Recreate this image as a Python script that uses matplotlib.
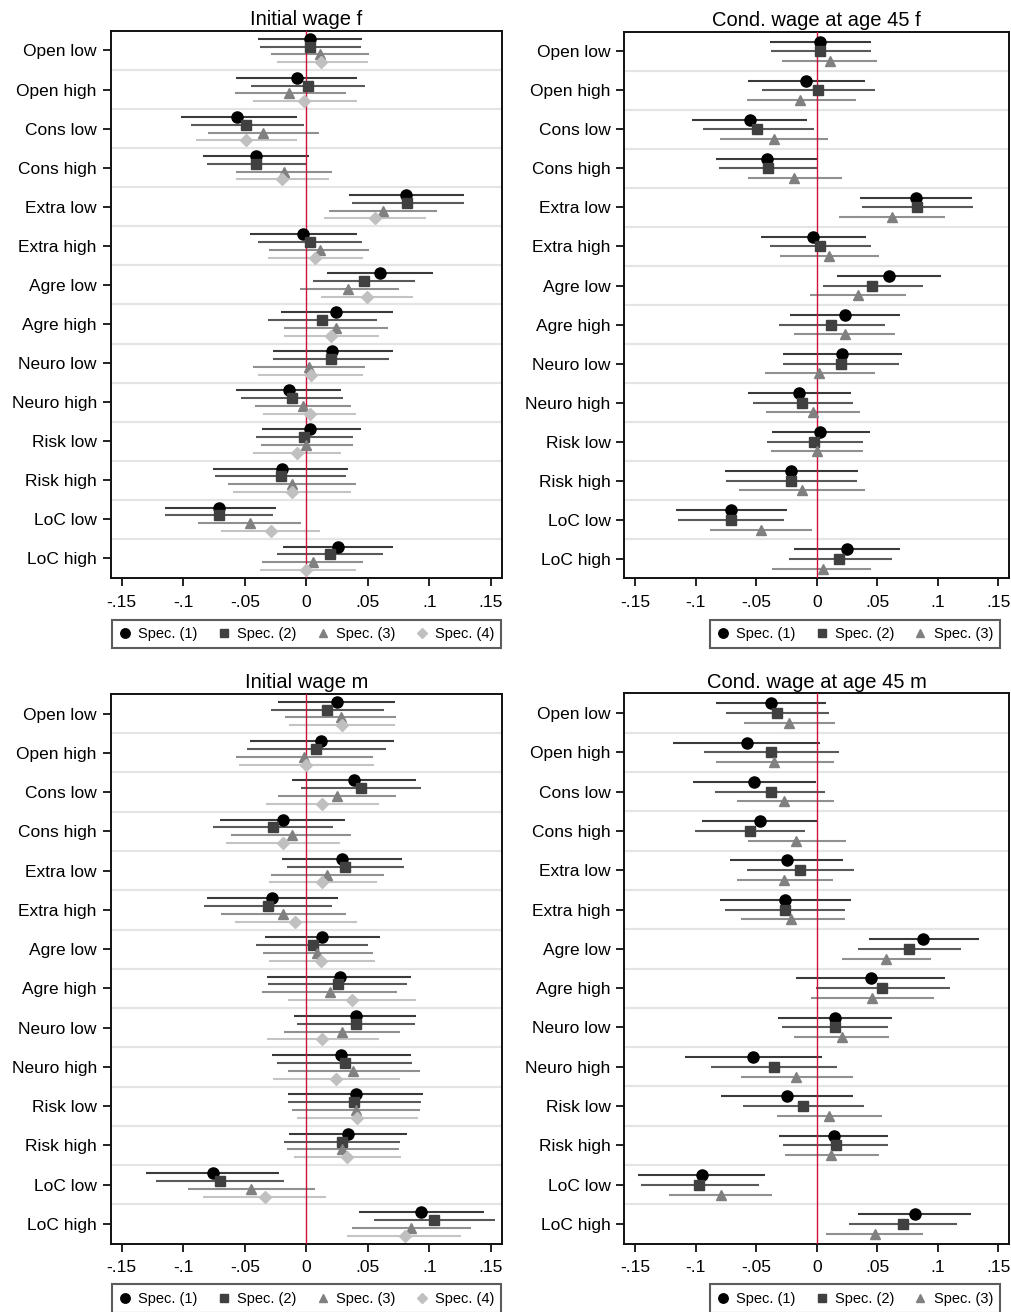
import numpy as np
import matplotlib.pyplot as plt
from matplotlib.lines import Line2D

plt.rcParams['font.family'] = ['Liberation Sans', 'DejaVu Sans']

categories = ['Open low', 'Open high', 'Cons low', 'Cons high', 'Extra low', 'Extra high',
              'Agre low', 'Agre high', 'Neuro low', 'Neuro high', 'Risk low', 'Risk high',
              'LoC low', 'LoC high']
spec_labels = ['Spec. (1)', 'Spec. (2)', 'Spec. (3)', 'Spec. (4)']
xtick_vals = [-0.15, -0.1, -0.05, 0, 0.05, 0.1, 0.15]
xtick_labels = ['-.15', '-.1', '-.05', '0', '.05', '.1', '.15']

# Initial wage f (4 specs)
init_f_b = [
    [0.003, -0.008, -0.056, -0.041, 0.081, -0.003, 0.060, 0.024, 0.021, -0.014, 0.003, -0.020, -0.071, 0.026],
    [0.003, 0.001, -0.049, -0.041, 0.082, 0.003, 0.047, 0.013, 0.020, -0.012, -0.002, -0.021, -0.071, 0.019],
    [0.011, -0.014, -0.035, -0.018, 0.062, 0.011, 0.034, 0.024, 0.002, -0.003, 0.000, -0.012, -0.046, 0.005],
    [0.012, -0.002, -0.049, -0.020, 0.056, 0.007, 0.049, 0.020, 0.004, 0.003, -0.008, -0.012, -0.029, 0.000],
]
init_f_lo = [
    [-0.039, -0.057, -0.102, -0.084, 0.035, -0.046, 0.017, -0.021, -0.027, -0.057, -0.036, -0.076, -0.115, -0.019],
    [-0.038, -0.045, -0.094, -0.081, 0.037, -0.039, 0.005, -0.031, -0.027, -0.053, -0.041, -0.074, -0.115, -0.024],
    [-0.029, -0.058, -0.080, -0.057, 0.018, -0.030, -0.005, -0.018, -0.043, -0.042, -0.037, -0.064, -0.088, -0.036],
    [-0.024, -0.043, -0.090, -0.057, 0.014, -0.031, 0.012, -0.018, -0.039, -0.035, -0.043, -0.060, -0.069, -0.038],
]
init_f_hi = [
    [0.045, 0.041, -0.008, 0.002, 0.128, 0.041, 0.103, 0.070, 0.070, 0.028, 0.044, 0.034, -0.025, 0.070],
    [0.044, 0.048, -0.002, 0.000, 0.128, 0.045, 0.088, 0.057, 0.067, 0.030, 0.038, 0.032, -0.027, 0.062],
    [0.051, 0.032, 0.010, 0.021, 0.106, 0.051, 0.075, 0.066, 0.048, 0.036, 0.038, 0.040, -0.004, 0.046],
    [0.050, 0.041, -0.008, 0.018, 0.097, 0.046, 0.087, 0.059, 0.046, 0.040, 0.028, 0.036, 0.011, 0.040],
]

# Cond. wage at age 45 f (3 specs)
cond_f_b = [
    [0.003, -0.009, -0.055, -0.041, 0.082, -0.003, 0.060, 0.023, 0.021, -0.015, 0.003, -0.021, -0.071, 0.025],
    [0.003, 0.001, -0.049, -0.040, 0.083, 0.003, 0.046, 0.012, 0.020, -0.012, -0.002, -0.021, -0.071, 0.018],
    [0.011, -0.014, -0.035, -0.019, 0.062, 0.010, 0.034, 0.023, 0.002, -0.003, 0.000, -0.012, -0.046, 0.005],
]
cond_f_lo = [
    [-0.039, -0.057, -0.103, -0.083, 0.036, -0.046, 0.017, -0.022, -0.028, -0.057, -0.037, -0.076, -0.116, -0.019],
    [-0.038, -0.045, -0.094, -0.081, 0.037, -0.039, 0.005, -0.031, -0.028, -0.053, -0.041, -0.075, -0.115, -0.023],
    [-0.029, -0.058, -0.080, -0.057, 0.018, -0.030, -0.006, -0.019, -0.043, -0.042, -0.038, -0.064, -0.088, -0.037],
]
cond_f_hi = [
    [0.045, 0.040, -0.008, 0.001, 0.128, 0.041, 0.103, 0.069, 0.070, 0.028, 0.044, 0.034, -0.025, 0.069],
    [0.045, 0.048, -0.002, 0.001, 0.129, 0.045, 0.088, 0.056, 0.068, 0.030, 0.038, 0.033, -0.027, 0.062],
    [0.050, 0.032, 0.009, 0.021, 0.106, 0.051, 0.074, 0.065, 0.048, 0.036, 0.038, 0.040, -0.004, 0.045],
]

# Initial wage m (4 specs)
init_m_b = [
    [0.025, 0.012, 0.039, -0.019, 0.029, -0.028, 0.013, 0.027, 0.040, 0.028, 0.040, 0.034, -0.076, 0.093],
    [0.017, 0.008, 0.044, -0.027, 0.031, -0.031, 0.005, 0.026, 0.040, 0.031, 0.039, 0.029, -0.070, 0.104],
    [0.028, -0.002, 0.025, -0.012, 0.017, -0.019, 0.009, 0.019, 0.029, 0.038, 0.040, 0.029, -0.045, 0.085],
    [0.029, 0.000, 0.013, -0.019, 0.013, -0.009, 0.012, 0.037, 0.013, 0.024, 0.041, 0.033, -0.034, 0.080],
]
init_m_lo = [
    [-0.023, -0.046, -0.012, -0.070, -0.020, -0.081, -0.034, -0.032, -0.010, -0.028, -0.015, -0.014, -0.130, 0.043],
    [-0.029, -0.048, -0.004, -0.076, -0.016, -0.083, -0.041, -0.031, -0.008, -0.024, -0.015, -0.018, -0.122, 0.055],
    [-0.017, -0.057, -0.023, -0.061, -0.029, -0.069, -0.035, -0.036, -0.018, -0.015, -0.012, -0.016, -0.096, 0.037],
    [-0.014, -0.055, -0.033, -0.065, -0.030, -0.058, -0.030, -0.015, -0.032, -0.027, -0.008, -0.010, -0.084, 0.033],
]
init_m_hi = [
    [0.072, 0.071, 0.089, 0.031, 0.078, 0.026, 0.060, 0.085, 0.089, 0.085, 0.095, 0.082, -0.022, 0.144],
    [0.063, 0.065, 0.093, 0.022, 0.079, 0.021, 0.050, 0.082, 0.088, 0.086, 0.093, 0.076, -0.018, 0.153],
    [0.073, 0.054, 0.073, 0.036, 0.063, 0.032, 0.054, 0.074, 0.076, 0.092, 0.092, 0.075, 0.007, 0.134],
    [0.072, 0.055, 0.059, 0.027, 0.057, 0.041, 0.056, 0.089, 0.059, 0.076, 0.091, 0.077, 0.016, 0.126],
]

# Cond. wage at age 45 m (3 specs)
cond_m_b = [
    [-0.038, -0.058, -0.052, -0.047, -0.025, -0.026, 0.088, 0.045, 0.015, -0.053, -0.025, 0.014, -0.095, 0.081],
    [-0.033, -0.038, -0.038, -0.055, -0.014, -0.026, 0.076, 0.054, 0.015, -0.035, -0.011, 0.016, -0.097, 0.071],
    [-0.023, -0.035, -0.027, -0.017, -0.027, -0.021, 0.057, 0.046, 0.021, -0.017, 0.010, 0.012, -0.079, 0.048],
]
cond_m_lo = [
    [-0.083, -0.119, -0.102, -0.095, -0.072, -0.080, 0.043, -0.017, -0.032, -0.109, -0.079, -0.031, -0.148, 0.034],
    [-0.075, -0.093, -0.084, -0.101, -0.058, -0.076, 0.034, -0.001, -0.029, -0.087, -0.061, -0.028, -0.145, 0.027],
    [-0.060, -0.083, -0.066, -0.057, -0.066, -0.063, 0.021, -0.005, -0.019, -0.063, -0.033, -0.026, -0.122, 0.008],
]
cond_m_hi = [
    [0.008, 0.003, -0.001, 0.001, 0.022, 0.028, 0.134, 0.106, 0.062, 0.004, 0.030, 0.059, -0.043, 0.127],
    [0.010, 0.018, 0.007, -0.010, 0.031, 0.023, 0.119, 0.110, 0.059, 0.017, 0.039, 0.059, -0.048, 0.116],
    [0.015, 0.014, 0.014, 0.024, 0.013, 0.023, 0.094, 0.097, 0.060, 0.030, 0.054, 0.051, -0.037, 0.088],
]

# marker / line styles per spec
markers = ['o', 's', '^', 'D']
msizes = [8, 7.2, 7, 6.5]
mcolors = ['#000000', '#404040', '#808080', '#c0c0c0']
lcolors = ['#3a3a3a', '#5a5a5a', '#909090', '#c4c4c4']


def coef_panel(ax, title, b, lo, hi):
    n = len(b)
    offs = [-0.3, -0.1, 0.1, 0.3] if n == 4 else [-0.25, 0.0, 0.25]
    y = np.arange(len(categories))
    for k in range(len(categories) - 1):
        ax.axhline(k + 0.5, color='#e4e4e4', lw=1.6, zorder=0)
    for s in range(n):
        ax.hlines(y + offs[s], lo[s], hi[s], color=lcolors[s], lw=1.5, zorder=2)
    ax.axvline(0, color='#d0103a', lw=1.0, zorder=3)
    for s in range(n):
        ax.plot(b[s], y + offs[s], ls='none', marker=markers[s], ms=msizes[s],
                color=mcolors[s], mec=mcolors[s], zorder=4)
    ax.set_ylim(len(categories) - 0.5, -0.5)
    ax.set_xlim(-0.159, 0.159)
    ax.set_yticks(y)
    ax.set_yticklabels(categories, fontsize=12.5)
    ax.set_xticks(xtick_vals)
    ax.set_xticklabels(xtick_labels, fontsize=12.5)
    ax.tick_params(axis='both', direction='out', length=6, width=1.4, color='#222222')
    ax.tick_params(axis='y', pad=4)
    ax.tick_params(axis='x', pad=6)
    for sp in ax.spines.values():
        sp.set_linewidth(1.4)
        sp.set_color('#111111')
    ax.set_title(title, fontsize=14.5, pad=4)


def spec_legend(fig, n, center):
    handles = [Line2D([], [], ls='none', marker=markers[s], ms=msizes[s] * 0.85,
                      color=mcolors[s]) for s in range(n)]
    leg = fig.legend(handles, spec_labels[:n], loc='center', bbox_to_anchor=center,
                     ncol=n, fontsize=10.5, frameon=True, fancybox=False,
                     handlelength=0.8, handletextpad=0.5, columnspacing=1.4,
                     borderpad=0.5)
    leg.get_frame().set_edgecolor('#333333')
    leg.get_frame().set_linewidth(1.5)


fig = plt.figure(figsize=(10.12, 13.12), dpi=100)

ax1 = fig.add_axes([0.1094, 0.5595, 0.3867, 0.4169])
coef_panel(ax1, 'Initial wage f', init_f_b, init_f_lo, init_f_hi)
ax2 = fig.add_axes([0.6169, 0.5592, 0.3804, 0.4166])
coef_panel(ax2, 'Cond. wage at age 45 f', cond_f_b, cond_f_lo, cond_f_hi)
ax3 = fig.add_axes([0.1094, 0.0521, 0.3867, 0.4190])
coef_panel(ax3, 'Initial wage m', init_m_b, init_m_lo, init_m_hi)
ax4 = fig.add_axes([0.6169, 0.0521, 0.3804, 0.4194])
coef_panel(ax4, 'Cond. wage at age 45 m', cond_m_b, cond_m_lo, cond_m_hi)

spec_legend(fig, 4, (0.3031, 0.5168))
spec_legend(fig, 3, (0.8449, 0.5168))
spec_legend(fig, 4, (0.3031, 0.0101))
spec_legend(fig, 3, (0.8449, 0.0101))

fig.savefig('out.png', dpi=100)
